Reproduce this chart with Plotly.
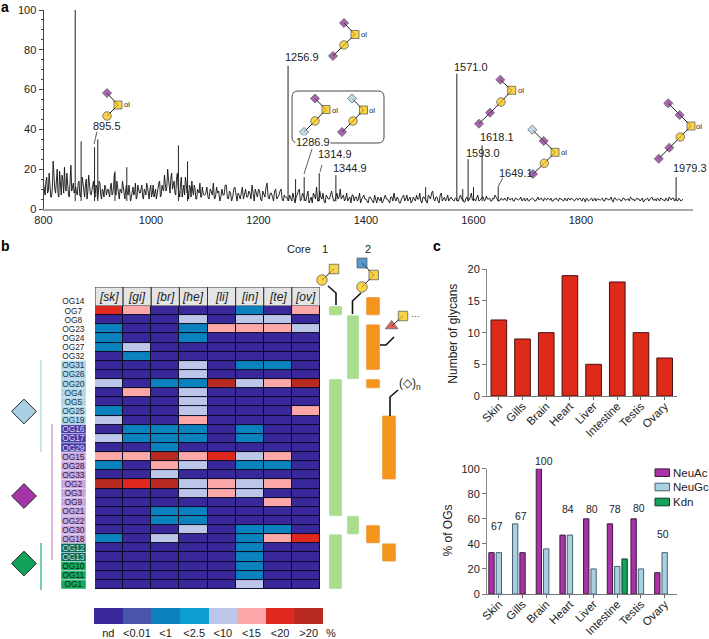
import plotly.graph_objects as go

FONT = "Liberation Sans"
W, H = 709, 639

# panel a: spectrum, typed off the picture (baseline at two grid steps, plus the peaks)
baseline_low = [
    13,7,16,9,12,6,24,10,15,8,19,7,14,21,9,12,6,22,11,8,
    11,7,14,6,16,9,12,5,17,8,10,14,6,11,8,13,5,9,12,7,
    10,6,13,8,18,7,11,5,9,14,6,10,8,12,4,9,7,13,6,10,
    8,12,5,9,13,7,10,6,12,8,5,11,14,7,10,17,9,20,12,16,
    10,14,7,18,9,13,6,12,16,8,5,11,14,7,10,5,9,13,6,8,
]
baseline_low_mid = [
    10,14,8,18,6,11,16,8,20,6,12,17,8,11,18,7,15,9,13,10,
    8,13,7,10,13,6,15,9,11,7,13,8,12,5,14,7,10,6,11,9,
    8,11,7,12,9,14,6,10,8,11,5,12,7,9,6,11,8,5,12,8,
    11,6,10,7,11,5,12,8,6,10,8,13,6,12,9,14,11,15,8,18,
    12,8,15,11,6,16,10,7,13,9,12,6,9,12,5,10,8,6,11,7,
]
baseline_high = [
    7,11,5,9,13,6,8,4,10,7,12,5,8,6,11,4,7,9,5,10,6,8,12,4,7,10,5,9,6,13,5,8,4,10,6,9,5,7,
    6,4,5,8,3,7,10,5,6,4,9,5,3,7,11,4,6,8,3,6,5,9,4,7,5,10,6,4,8,5,3,7,6,4,8,5,7,
    5,3,6,4,7,3,5,6,4,7,5,3,6,8,4,5,3,6,4,7,5,3,6,4,5,8,3,6,4,7,5,9,4,6,3,8,5,4,7,5,
    5,4,5.5,4,7,5,3.5,6,4.5,8,5,4,7,4.5,6,4,6.5,5,4,5.5,7,5,4,5.5,4.5,5,6,4.5,5.5,4,
    5,4.5,6,5,4,5.5,4.5,5.5,5,4,6,5,4.5,5.5,4.5,5,5.5,4,5,4.5,5.5,5,4,4.5,5.5,4.5,5,4,5.5,5,
    4.5,5.5,3.5,5,4.5,5.5,4.5,4,5,4.5,5.5,4,5,4.5,6,3.5,5.5,4.5,5,4,5.5,4.5,5,6,4.5,4,5.5,5,4.5,3.5,
    5,5.5,4.5,6,4.5,4,5,5.5,4.5,4,5,6,4.5,5.5,5,4,5,4.5,
]
baseline_high_mid = [
    8,6,10,7,5,11,9,6,7,12,6,9,4,10,7,8,5,11,7,6,9,5,8,10,6,9,4,7,11,6,8,6,9,5,7,10,4,6,
    5,7,4,6,6,9,4,8,5,7,3,6,8,5,4,9,5,4,7,5,8,6,4,8,6,5,7,5,4,6,7,4,6,5,3,6,5,
    4,6,5,3,5,6,4,3,6,5,4,6,4,5,6,3,5,7,5,4,6,4,5,7,5,4,6,5,3,6,8,5,6,4,7,4,6,5,4,6,
    4.5,5.5,4,6,5,3.5,5.5,4,6,4.5,5,5.5,4,5,6,4.5,5,5.5,4,5,6,4,5,4.5,5.5,4,5.5,5,4,5.5,
    4.5,5,4,5.5,5,4,5,5.5,4,5,4.5,5.5,4,5,5.5,4.5,4,5,5.5,4,5,4.5,5.5,4,5,5.5,4,5,4.5,5.5,
    4,5,5.5,4,5,4,5.5,5,4.5,5,4,5.5,4.5,5,4,5.5,4.5,5,4,5.5,4.5,5,4,5.5,5,4.5,5,4,5.5,4.5,
    5,4,5.5,4.5,5,5.5,4,5,4.5,5.5,4,5,5.5,4,4.5,5.5,4,5,
]
peak_mz = [859, 870, 895, 901, 933, 955, 1051, 1068, 1255, 1269, 1285, 1313, 1344,
           1511, 1569, 1580, 1590, 1600, 1616, 1646, 1977]
peak_height = [100, 34, 31, 35, 19, 21, 32, 24, 72, 15, 16, 18, 17,
               11, 68, 10, 25, 11, 32, 11, 16]

# panel b
og_labels = ["OG14", "OG7", "OG8", "OG23", "OG24", "OG27", "OG32", "OG31", "OG26", "OG20", "OG4",
             "OG5", "OG25", "OG19", "OG16", "OG17", "OG29", "OG15", "OG28", "OG33", "OG2", "OG3",
             "OG9", "OG21", "OG22", "OG30", "OG18", "OG12", "OG13", "OG10", "OG11", "OG1"]
tissue_codes = ["[sk]", "[gi]", "[br]", "[he]", "[li]", "[in]", "[te]", "[ov]"]
# abundance class per OG, OG7 to OG1 (OG14 has no row of its own)
level_sk = [6,0,2,2,2,0,0,0,4,0,0,2,4,0,4,0,5,2,0,7,0,0,0,0,0,2,0,0,0,0,0]
level_gi = [5,0,0,0,4,2,0,0,0,5,0,0,0,2,2,0,5,0,0,6,0,0,0,0,0,0,0,0,0,0,0]
level_br = [0,0,0,0,0,0,0,0,2,0,0,0,0,2,2,2,7,5,4,7,0,0,2,2,0,4,0,0,0,0,0]
level_he = [0,4,2,2,0,0,4,4,2,4,4,4,5,2,2,0,5,4,0,4,4,0,2,2,4,0,0,0,0,0,0]
level_li = [0,0,5,0,0,0,0,0,7,0,0,0,0,0,0,0,6,0,0,5,5,0,0,0,0,0,0,0,0,0,0]
level_in = [2,4,5,0,0,0,2,0,4,0,0,0,0,2,2,0,4,2,0,4,4,0,0,0,2,2,2,2,2,2,4]
level_te = [0,4,5,0,0,0,2,0,5,0,0,0,0,0,0,0,5,2,0,5,0,5,0,0,2,5,0,0,0,0,0]
level_ov = [5,0,4,0,0,0,0,0,7,0,0,5,0,0,0,0,0,0,0,0,0,0,0,0,0,6,0,0,0,0,0]
level_labels = ["nd", "<0.01", "<1", "<2.5", "<10", "<15", "<20", ">20"]
level_colors = ["#38289a", "#4a56ae", "#0a82bd", "#0d9fd0", "#bcc6e8", "#fca8a8", "#e0291e", "#b92a22"]
# first and last OG of each run, in og_labels order
core1_runs = [("OG7", "OG7"), ("OG20", "OG21"), ("OG18", "OG1")]
core2_runs = [("OG8", "OG26"), ("OG22", "OG30")]
ext1_runs = [("OG14", "OG7"), ("OG23", "OG31"), ("OG20", "OG20"), ("OG30", "OG18")]
ext2_runs = [("OG19", "OG33"), ("OG12", "OG13")]

# panel c
tissues = ["Skin", "Gills", "Brain", "Heart", "Liver", "Intestine", "Testis", "Ovary"]
glycan_counts = [12, 9, 10, 19, 5, 18, 10, 6]
neuac = [33, 33, 100, 47, 60, 56, 60, 17]
neugc = [33, 56, 36, 47, 20, 22, 20, 33]
kdn = [None, None, None, None, None, 28, None, None]
og_totals = ["67", "67", "100", "84", "80", "78", "80", "50"]
# heights of those totals as printed over the bars
total_heights = [54, 62, 106, 68, 68, 68, 69, 48]

PURPLE, GOLD, SKY, GREEN = "#83258a", "#f6c200", "#a8d0e2", "#11a35c"
GREY_TEXT = "#222222"


def px_x(v):
    return v / W


def px_y(v):
    return 1 - v / H


fig = go.Figure()

# --- a: spectrum
trace_pts = []
trace_pts += [(800 + 3 * i, v) for i, v in enumerate(baseline_low)]
trace_pts += [(801.5 + 3 * i, v) for i, v in enumerate(baseline_low_mid)]
trace_pts += [(1100 + 4 * i, v) for i, v in enumerate(baseline_high)]
trace_pts += [(1102 + 4 * i, v) for i, v in enumerate(baseline_high_mid)]
trace_pts.sort()
fig.add_trace(go.Scatter(x=[p[0] for p in trace_pts], y=[p[1] for p in trace_pts], mode="lines",
                         line=dict(color="#111111", width=0.9), xaxis="x", yaxis="y"))
stick_x, stick_y = [], []
for m, h in zip(peak_mz, peak_height):
    stick_x += [m, m, None]
    stick_y += [4, h, None]
fig.add_trace(go.Scatter(x=stick_x, y=stick_y, mode="lines",
                         line=dict(color="#222222", width=1), xaxis="x", yaxis="y"))

# --- b: heat map and its key
levels = [level_sk, level_gi, level_br, level_he, level_li, level_in, level_te, level_ov]
z = [[col[r] for col in levels] for r in range(len(level_sk))]
n_lvl = len(level_colors)
scale = []
for i, c in enumerate(level_colors):
    scale += [[i / n_lvl, c], [(i + 1) / n_lvl, c]]
fig.add_trace(go.Heatmap(z=z, x=list(range(8)), y=list(range(1, len(og_labels))),
                         colorscale=scale, zmin=-0.5, zmax=7.5, showscale=False,
                         xgap=1, ygap=1, xaxis="x2", yaxis="y2"))
fig.add_trace(go.Bar(x=list(range(8)), y=[1] * 8, width=1, marker=dict(color="#e4e4e4", line=dict(color="#333333", width=1)),
                     xaxis="x3", yaxis="y3"))

chip_colors, chip_text = [], []
for i in range(len(og_labels)):
    if i < 7:
        chip_colors.append("rgba(0,0,0,0)"); chip_text.append("#222222")
    elif i < 14:
        chip_colors.append("#aed6e8"); chip_text.append("#1d3d55")
    elif i < 17:
        chip_colors.append("#4a3aa6"); chip_text.append("#cfd8f0")
    elif i < 27:
        chip_colors.append("#c9a9e3"); chip_text.append("#33203f")
    elif i < 29:
        chip_colors.append("#0f6a58"); chip_text.append("#bfe3d6")
    else:
        chip_colors.append("#17a75d"); chip_text.append("#06301c")
fig.add_trace(go.Bar(y=list(range(len(og_labels))), x=[1] * len(og_labels), orientation="h", width=1,
                     marker=dict(color=chip_colors), text=og_labels, textposition="inside",
                     insidetextanchor="middle", insidetextfont=dict(family=FONT, size=8.4, color=chip_text),
                     constraintext="none", xaxis="x4", yaxis="y2"))

lanes = [(core1_runs, 335.5, 13, "#a8de8c"), (core2_runs, 353, 12, "#a8de8c"),
         (ext1_runs, 373, 14, "#f5941d"), (ext2_runs, 389, 14, "#f5941d")]
for runs, lane_x, lane_w, color in lanes:
    starts = [og_labels.index(a) for a, b in runs]
    ends = [og_labels.index(b) for a, b in runs]
    fig.add_trace(go.Bar(x=[lane_x] * len(runs), y=[e - s + 1 for s, e in zip(starts, ends)],
                         base=[s - 0.5 for s in starts], width=lane_w, marker=dict(color=color, cornerradius=1.5),
                         xaxis="x9", yaxis="y2"))

fig.add_trace(go.Heatmap(z=[list(range(n_lvl))], x=list(range(n_lvl)), y=[0], colorscale=scale,
                         zmin=-0.5, zmax=7.5, showscale=False, xaxis="x6", yaxis="y6"))

# --- c: bars
fig.add_trace(go.Bar(x=tissues, y=glycan_counts, width=0.66,
                     marker=dict(color="#dd2a19", line=dict(color="#4a1010", width=1)), xaxis="x7", yaxis="y7"))

slot, bar_w = 0.31, 0.225
neuac_slot = [-1, 0, -1, -1, -1, -1, -1, -1]
neugc_slot = [0, -1, 0, 0, 0, 0, 0, 0]
kdn_slot = [1] * 8
sugar_series = [("NeuAc", neuac, neuac_slot, "#a832a6", "#3c1b3c"),
                ("NeuGc", neugc, neugc_slot, SKY, "#45606e"),
                ("Kdn", kdn, kdn_slot, GREEN, "#0b3b2a")]
for name, vals, slots, color, edge in sugar_series:
    fig.add_trace(go.Bar(x=tissues, y=vals, name=name, width=bar_w, offset=[s * slot - bar_w / 2 for s in slots],
                         marker=dict(color=color, line=dict(color=edge, width=1)),
                         xaxis="x8", yaxis="y8"))

# --- glycan cartoons and other decoration on a pixel-scaled overlay
MARK = {"d": ("diamond", 7, PURPLE), "g": ("diamond", 7, SKY), "s": ("square", 8, GOLD),
        "c": ("circle", 8.5, GOLD), "S": ("square", 9.5, GOLD), "C": ("circle", 10.5, GOLD),
        "b": ("square", 10, "#0f6fb5"), "t": ("triangle-up", 11, "#c8281e")}
glycans = [
    [("d", 107, 93), ("s", 118, 105), ("c", 107, 116)],
    [("d", 344, 23), ("s", 355, 34.5), ("c", 344, 45), ("d", 333, 56)],
    [("d", 315, 98.5), ("s", 326, 109.5), ("c", 315, 121), ("g", 304, 132)],
    [("g", 352, 98.5), ("s", 363.5, 110), ("c", 353, 121), ("d", 342, 132)],
    [("d", 500.3, 79.7), ("s", 511.7, 90.3), ("c", 501, 102), ("d", 490, 112.7), ("d", 479, 123.7)],
    [("g", 532.3, 129.7), ("d", 543.7, 141), ("s", 555, 152.3), ("c", 544.3, 163.3), ("d", 533, 174)],
    [("d", 668.3, 103.3), ("d", 679.7, 115), ("s", 691, 126), ("c", 680.3, 137), ("d", 669.3, 147.7), ("d", 658.7, 158.7)],
    [("C", 322, 280), ("S", 334, 269)],
    [("b", 362, 263), ("S", 373.7, 275), ("C", 362, 287)],
    [("t", 391.7, 326), ("S", 403, 316)],
]
leaders = [
    [(97, 131.7), (94, 144)], [(312, 149), (304, 174)], [(322, 165), (320, 172)], [(502.7, 178), (498, 187)],
]
for g in glycans:
    fig.add_trace(go.Scatter(x=[p[1] for p in g], y=[p[2] for p in g], mode="lines+markers",
                             line=dict(color="#222222", width=1),
                             marker=dict(symbol=[MARK[p[0]][0] for p in g], size=[MARK[p[0]][1] for p in g],
                                         color=[MARK[p[0]][2] for p in g], line=dict(color="#222222", width=0.8)),
                             xaxis="x9", yaxis="y9"))
for seg in leaders:
    fig.add_trace(go.Scatter(x=[p[0] for p in seg], y=[p[1] for p in seg], mode="lines",
                             line=dict(color="#333333", width=0.8), xaxis="x9", yaxis="y9"))
# bent stems from the lanes up to the core / extension cartoons
for seg in [[(328, 286), (336, 293), (336, 305)], [(352.5, 314), (352.5, 301), (361, 293)],
            [(380, 345), (386, 345), (394, 337)], [(390, 416), (390, 397), (398, 390)]]:
    fig.add_trace(go.Scatter(x=[p[0] for p in seg], y=[p[1] for p in seg], mode="lines",
                             line=dict(color="#111111", width=1.6), xaxis="x9", yaxis="y9"))
# sugar-class brackets and big diamonds at the left of b
for seg, color in [([(41, 360), (41, 452)], "#a8d0e2"), ([(52, 424), (52, 560)], "#c58ac6"), ([(41, 543), (41, 590)], "#19b060")]:
    fig.add_trace(go.Scatter(x=[p[0] for p in seg], y=[p[1] for p in seg], mode="lines",
                             line=dict(color=color, width=1.2), xaxis="x9", yaxis="y9"))
fig.add_trace(go.Scatter(x=[24, 24, 24], y=[411.5, 496, 563.5], mode="markers",
                         marker=dict(symbol="diamond", size=19, color=[SKY, "#a535a8", GREEN],
                                     line=dict(color="#222222", width=1)), xaxis="x9", yaxis="y9"))

# --- texts
notes = [
    ("a", 5, 7, 14, True), ("b", 5, 246, 14, True), ("c", 437, 246, 14, True),
    ("895.5", 107, 126, 11, False), ("1256.9", 302, 57, 11, False), ("1286.9", 313, 142, 11, False),
    ("1314.9", 334.5, 154, 11, False), ("1344.9", 350, 168, 11, False), ("1571.0", 470.7, 67, 11, False),
    ("1618.1", 496.7, 137, 11, False), ("1593.0", 483, 153, 11, False), ("1649.1", 516, 172.5, 11, False),
    ("1979.3", 690, 168, 11, False),
    ("Core", 299, 249, 11, False), ("1", 325, 249, 11, False), ("2", 368, 249, 11, False),
    ("(◇)<sub>n</sub>", 410, 384, 12, False), ("···", 415, 316, 9, False), ("%", 331, 632.5, 11, False),
]
for px, py in [(127, 104), (364, 34), (335, 110), (372, 110), (521, 90), (564, 152), (699, 126)]:
    notes.append(("ol", px, py, 7.5, False))
annotations = []
for text, px, py, size, bold in notes:
    annotations.append(dict(
        text=f"<b>{text}</b>" if bold else text, x=px, y=py, xref="x9", yref="y9", showarrow=False,
        font=dict(family=FONT, size=size, color="#000000" if bold else GREY_TEXT),
        bgcolor="#ffffff" if text == "1286.9" else None, borderpad=0,
    ))
for text, px, py in [("Number of glycans", 452.7, 334), ("% of OGs", 447, 530.5)]:
    annotations.append(dict(text=text, x=px, y=py, xref="x9", yref="y9", showarrow=False, textangle=-90,
                            font=dict(family=FONT, size=12, color=GREY_TEXT)))
for i, code in enumerate(tissue_codes):
    annotations.append(dict(text=code, x=i, y=0.5, xref="x3", yref="y3", showarrow=False,
                            font=dict(family=FONT, size=12, color=GREY_TEXT, style="italic")))
# totals go on the overlay: the axis would hide the 100 above its range
for i, (label, h) in enumerate(zip(og_totals, total_heights)):
    annotations.append(dict(text=label, x=497 + i * 23.69, y=594 - h * 1.253, xref="x9", yref="y9", showarrow=False,
                            font=dict(family=FONT, size=10.5, color=GREY_TEXT)))

box = "M 298 91 L 378 91 Q 384 91 384 97 L 384 137 Q 384 143 378 143 L 298 143 Q 292 143 292 137 L 292 97 Q 292 91 298 91 Z"
shapes = [
    dict(type="path", path=box, xref="x9", yref="y9", line=dict(color="#333333", width=0.9), layer="above"),
    dict(type="rect", x0=-0.5, x1=7.5, y0=0.5, y1=31.5, xref="x2", yref="y2", fillcolor="#0a0a20",
         line=dict(color="#0a0a20", width=1), layer="below"),
]
# legend for c, drawn by hand so the keys can sit as close to the text as they do in the picture
for (name, vals, slots, color, edge), py in zip(sugar_series, [472.7, 487, 502]):
    shapes.append(dict(type="rect", x0=655, x1=669.5, y0=py - 3.8, y1=py + 3.8, xref="x9", yref="y9",
                       fillcolor=color, line=dict(color=edge, width=1), layer="above"))
    annotations.append(dict(text=name, x=672, y=py, xref="x9", yref="y9", xanchor="left", showarrow=False,
                            borderpad=0, font=dict(family=FONT, size=11.5, color=GREY_TEXT)))


def hidden(**kw):
    return dict(visible=False, fixedrange=True, **kw)


tick_font = dict(family=FONT, size=11, color=GREY_TEXT)
cat_font = dict(family=FONT, size=11.5, color=GREY_TEXT)
cat_axis = dict(range=[-0.5, 7.5], type="category", categoryorder="array", categoryarray=tissues,
                tickangle=-45, ticks="outside", ticklen=3, tickcolor="#666666", ticklabelstandoff=-5,
                showline=True, linecolor="#777777", linewidth=1, showgrid=False, tickfont=cat_font)
fig.update_layout(
    width=W, height=H, margin=dict(l=0, r=0, t=0, b=0, autoexpand=False), paper_bgcolor="white",
    plot_bgcolor="rgba(0,0,0,0)",
    barmode="overlay", showlegend=False, annotations=annotations, shapes=shapes,
    font=dict(family=FONT, size=11, color=GREY_TEXT),
    xaxis=dict(domain=[px_x(43.5), px_x(693)], range=[800, 2008.4], tickvals=[800, 1000, 1200, 1400, 1600, 1800],
               showgrid=False, zeroline=False, showline=True, linecolor="#aaaaaa", linewidth=2, ticks="",
               tickfont=tick_font, anchor="y"),
    yaxis=dict(domain=[px_y(209), px_y(10)], range=[0, 100], dtick=20, showgrid=False, zeroline=False,
               showline=True, linecolor="#444444", linewidth=1, ticks="outside", ticklen=4, tickcolor="#444444",
               minor=dict(dtick=5, ticks="outside", ticklen=2, tickcolor="#444444", showgrid=False),
               tickfont=tick_font, anchor="x"),
    xaxis2=hidden(domain=[px_x(95), px_x(320)], range=[-0.5, 7.5], anchor="y2"),
    yaxis2=hidden(domain=[px_y(589), px_y(296.9)], range=[31.5, -0.5], anchor="x2"),
    xaxis3=hidden(domain=[px_x(95), px_x(320)], range=[-0.5, 7.5], anchor="y3"),
    yaxis3=hidden(domain=[px_y(306), px_y(287)], range=[0, 1], anchor="x3"),
    xaxis4=hidden(domain=[px_x(61), px_x(86)], range=[0, 1], anchor="y2"),
    xaxis6=dict(domain=[px_x(94), px_x(323)], range=[-0.5, 7.5], tickvals=list(range(n_lvl)), ticktext=level_labels,
                ticks="", showline=False, showgrid=False, zeroline=False, tickfont=tick_font, anchor="y6", tickangle=0,
                ticklabelstandoff=1),
    yaxis6=hidden(domain=[px_y(624), px_y(608)], range=[-0.5, 0.5], anchor="x6"),
    xaxis7=dict(domain=[px_x(487), px_x(676.5)], anchor="y7", **cat_axis),
    yaxis7=dict(domain=[px_y(396), px_y(269.3)], range=[0, 20], dtick=5, ticks="outside", ticklen=4, tickcolor="#777777",
                showline=True, linecolor="#888888", linewidth=1, showgrid=False, zeroline=False, tickfont=tick_font,
                anchor="x7"),
    xaxis8=dict(domain=[px_x(487), px_x(676.5)], anchor="y8", **cat_axis),
    yaxis8=dict(domain=[px_y(594), px_y(468.7)], range=[0, 100], dtick=20, ticks="outside", ticklen=4, tickcolor="#777777",
                showline=True, linecolor="#888888", linewidth=1, showgrid=False, zeroline=False, tickfont=tick_font,
                anchor="x8"),
    xaxis9=hidden(domain=[0, 1], range=[0, W], anchor="y9"),
    yaxis9=hidden(domain=[0, 1], range=[H, 0], anchor="x9"),
)

fig.write_html("out.html", config={"displayModeBar": False}, post_script="document.body.style.margin='0';")
